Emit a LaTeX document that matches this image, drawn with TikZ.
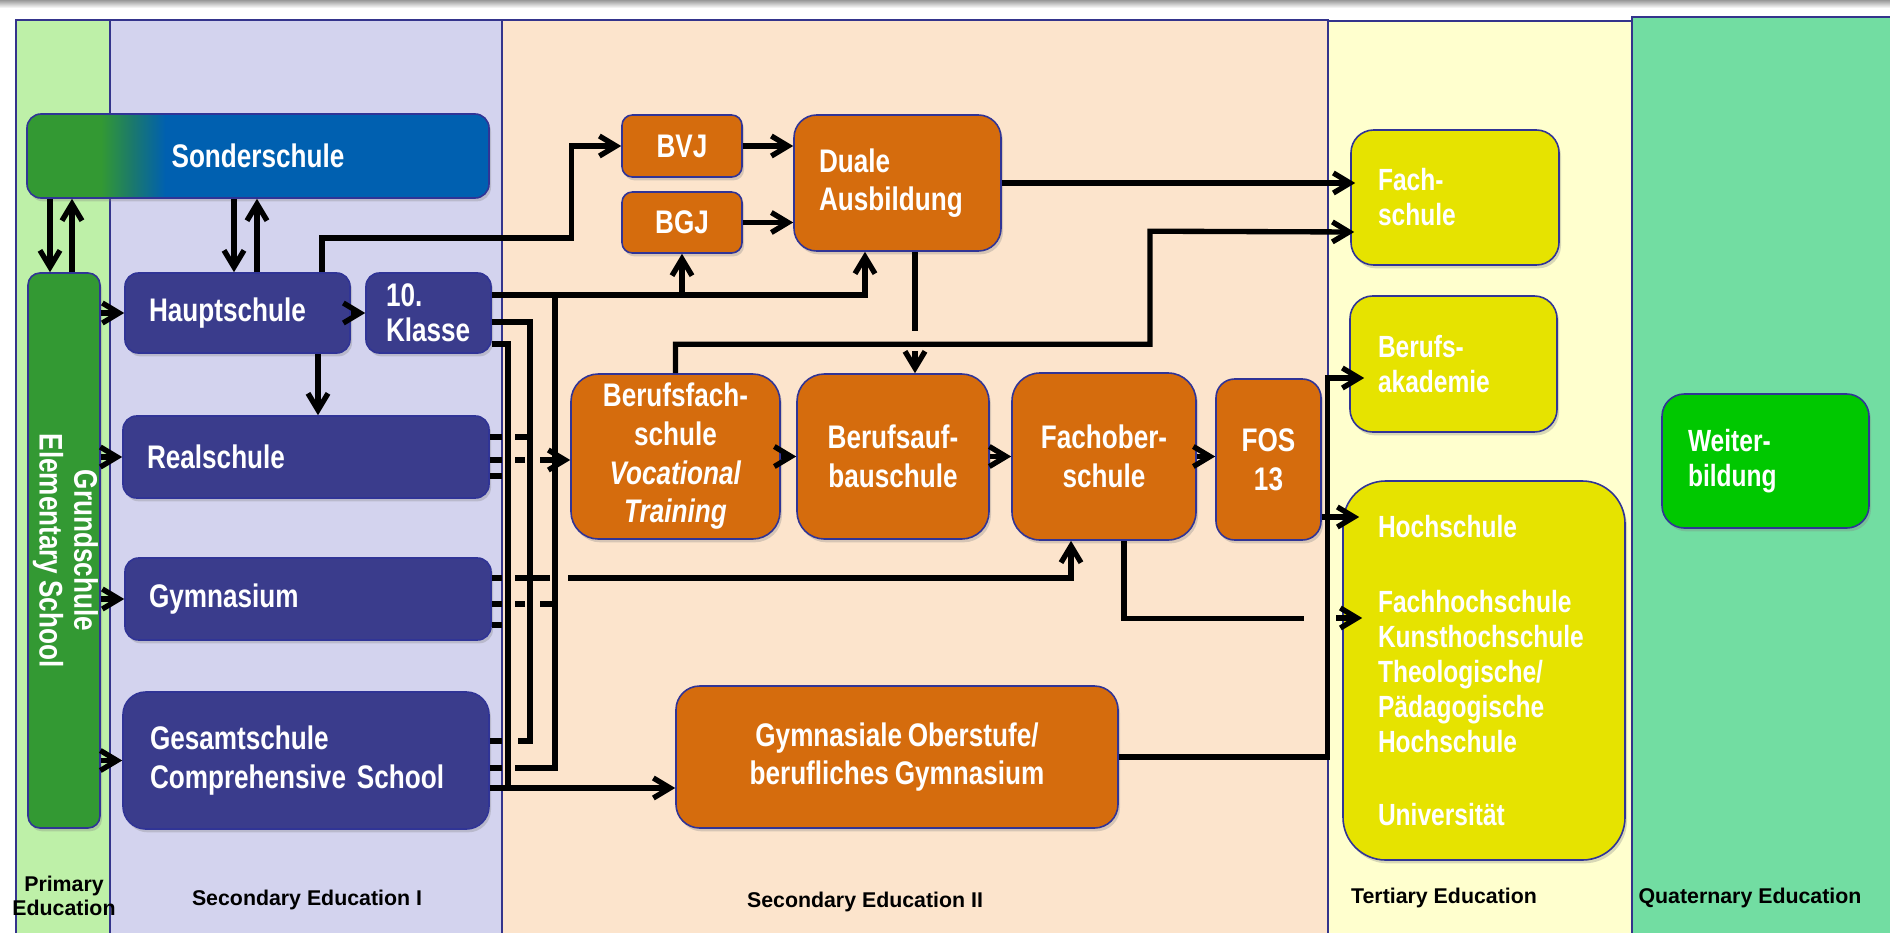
\documentclass[tikz,border=0pt]{standalone}
\usepackage{fontspec}
\usepackage{graphicx}
\setmainfont{Liberation Sans}
\newfontfamily\narrowsf{Liberation Sans}[FakeStretch=0.8, WordSpace=0.8]
\usetikzlibrary{calc,arrows.meta,shadows}

\definecolor{colprim}{RGB}{190,240,168}
\definecolor{colsecA}{RGB}{211,211,238}
\definecolor{colsecB}{RGB}{252,228,204}
\definecolor{colter}{RGB}{255,255,206}
\definecolor{colquat}{RGB}{114,221,162}
\definecolor{colframe}{RGB}{52,52,140}
\definecolor{boxedge}{RGB}{48,52,150}
\definecolor{lowerblue}{RGB}{58,60,140}
\definecolor{upperorange}{RGB}{213,108,13}
\definecolor{tertyellow}{RGB}{230,227,0}
\definecolor{quatgreen}{RGB}{0,200,0}
\definecolor{grundgreen}{RGB}{51,153,51}
\definecolor{sonderteal}{RGB}{26,120,110}
\definecolor{sonderblue}{RGB}{0,96,176}

\pgfdeclarehorizontalshading{sondershade}{100bp}{color(0bp)=(grundgreen); color(33bp)=(grundgreen); color(36.5bp)=(sonderteal); color(40bp)=(sonderblue); color(100bp)=(sonderblue)}

\tikzset{every picture/.style={line width=0.75pt}}
\tikzset{
  schoolbox/.style={draw=boxedge, line width=1.2pt, text=white, inner sep=0pt,
    font=\narrowsf\bfseries\fontsize{24.5}{29}\selectfont,
    drop shadow={opacity=0.3, shadow xshift=1.5pt, shadow yshift=-2.5pt}},
  lowerbox/.style={schoolbox, fill=lowerblue},
  upperbox/.style={schoolbox, fill=upperorange, align=center},
  tertbox/.style={schoolbox, fill=tertyellow, align=left,
    font=\narrowsf\bfseries\fontsize{23}{26.25}\selectfont},
  quatbox/.style={tertbox, fill=quatgreen},
  link/.style={line width=4pt},
  flow/.style={line width=4pt, -{Straight Barb[length=12.5pt,width=15pt]}},
  collabel/.style={font=\bfseries\fontsize{16}{18}\selectfont, inner sep=0pt}
}

\begin{document}
\begin{tikzpicture}[x=0.75pt,y=0.75pt,yscale=-1,xscale=1]
\useasboundingbox (0,0) rectangle (1890,932);

%Shape: top edge
\shade[top color=black!40, bottom color=white] (0,0) rectangle (1890,8);

%Shape: columns
\draw[colframe, line width=1.2pt, fill=colprim] (16,20) rectangle (110,936);
\draw[colframe, line width=1.2pt, fill=colsecA] (110,20) rectangle (502,936);
\draw[colframe, line width=1.2pt, fill=colsecB] (502,20) rectangle (1328,936);
\draw[colframe, line width=1.2pt, fill=colter] (1328,21) rectangle (1632,936);
\draw[colframe, line width=1.2pt, fill=colquat] (1632,17) rectangle (1896,936);

% Column labels
\node[collabel, align=center, anchor=north] (primlabel) at (64,876) {Primary\\Education};
\node[collabel, anchor=base] (secAlabel) at (307,905) {Secondary Education I};
\node[collabel, anchor=base] (secBlabel) at (865,907) {Secondary Education II};
\node[collabel, anchor=base] (terlabel) at (1444,903) {Tertiary Education};
\node[collabel, anchor=base] (quatlabel) at (1750,903) {Quaternary Education};

% Primary and Secondary I
\node[schoolbox, shade, shading=sondershade, rounded corners=10.5pt, minimum width=346.5pt, minimum height=63pt] (sonder) at (258,156) {Sonderschule};
\node[schoolbox, fill=grundgreen, rounded corners=9pt, minimum width=54pt, minimum height=416.25pt,
  font=\narrowsf\bfseries\fontsize{24.5}{26}\selectfont] (grund) at (64,550.5)
  {\rotatebox{-90}{\begin{tabular}{@{}c@{}}Grundschule\\Elementary School\end{tabular}}};
\node[lowerbox, rounded corners=10pt, minimum width=168.75pt, minimum height=60pt, text width=132.75pt, inner xsep=18pt, align=left] (haupt) at (237.5,313) {Hauptschule};
\node[lowerbox, rounded corners=10pt, minimum width=93.75pt, minimum height=60pt, text width=63.75pt, inner xsep=15pt, align=left,
  font=\narrowsf\bfseries\fontsize{24.5}{26}\selectfont] (klasse) at (428.5,313) {10.\\Klasse};
\node[lowerbox, rounded corners=10.25pt, minimum width=274.5pt, minimum height=61.5pt, text width=238.5pt, inner xsep=18pt, align=left] (real) at (306,457) {Realschule};
\node[lowerbox, rounded corners=10.25pt, minimum width=274.5pt, minimum height=61.5pt, text width=238.5pt, inner xsep=18pt, align=left] (gymn) at (308,599) {Gymnasium};
\node[lowerbox, rounded corners=17pt, minimum width=274.5pt, minimum height=102.75pt, text width=234pt, inner xsep=20.25pt, align=left] (gesamt) at (306,760.5) {Gesamtschule\\Comprehensive School};

% Secondary II
\node[upperbox, rounded corners=7.75pt, minimum width=90pt, minimum height=46.5pt] (bvj) at (682,146) {BVJ};
\node[upperbox, rounded corners=7.75pt, minimum width=90pt, minimum height=45.75pt] (bgj) at (682,222.5) {BGJ};
\node[upperbox, rounded corners=17pt, minimum width=155.25pt, minimum height=102pt, text width=117.75pt, inner xsep=18.75pt, align=left] (duale) at (897.5,183) {Duale\\Ausbildung};
\node[upperbox, rounded corners=20.5pt, minimum width=156.75pt, minimum height=123.75pt] (bfs) at (675.5,456.5) {Berufsfach-\\schule\\\textit{Vocational}\\\textit{Training}};
\node[upperbox, rounded corners=20.5pt, minimum width=144pt, minimum height=123.75pt] (bas) at (893,456.5) {Berufsauf-\\bauschule};
\node[upperbox, rounded corners=21pt, minimum width=138pt, minimum height=125.25pt] (fos) at (1104,456.5) {Fachober-\\schule};
\node[upperbox, rounded corners=14pt, minimum width=78.75pt, minimum height=120.75pt] (fos13) at (1268.5,459.5) {FOS\\13};
\node[upperbox, rounded corners=17.75pt, minimum width=331.5pt, minimum height=106.5pt] (gymob) at (897,757) {Gymnasiale Oberstufe/\\berufliches Gymnasium};

% Tertiary and Quaternary
\node[tertbox, rounded corners=17pt, minimum width=156pt, minimum height=101.25pt, text width=115.5pt, inner xsep=20.25pt] (fachs) at (1455,197.5) {Fach-\\schule};
\node[tertbox, rounded corners=17pt, minimum width=155.25pt, minimum height=102pt, text width=113.25pt, inner xsep=21pt] (ba) at (1453.5,364) {Berufs-\\akademie};
\node[tertbox, rounded corners=32pt, minimum width=211.5pt, minimum height=284.25pt, text width=159pt, inner xsep=26.25pt] (hoch) at (1484,670.5)
  {Hochschule\\[30pt]Fachhochschule\\Kunsthochschule\\Theologische/\\Pädagogische\\Hochschule\\[28.5pt]Universität};
\node[quatbox, rounded corners=16.75pt, minimum width=155.25pt, minimum height=100.5pt, text width=116.25pt, inner xsep=19.5pt] (weiter) at (1765.5,461) {Weiter-\\bildung};

% Bus positions
\coordinate (gapL) at (502,0);
\coordinate (gapR) at (515,0);
\coordinate (busA) at (508,0);
\coordinate (busB) at (530,0);
\coordinate (busC) at (555,0);
\coordinate (kA) at ($(klasse.east)+(0,-18)$);
\coordinate (kB) at ($(klasse.east)+(0,9)$);
\coordinate (kC) at ($(klasse.east)+(0,31)$);
\coordinate (rA) at ($(real.east)+(0,-20)$);
\coordinate (rB) at ($(real.east)+(0,3)$);
\coordinate (rC) at ($(real.east)+(0,19)$);
\coordinate (yA) at ($(gymn.east)+(0,-21)$);
\coordinate (yB) at ($(gymn.east)+(0,5)$);
\coordinate (yC) at ($(gymn.east)+(0,26)$);
\coordinate (sA) at ($(gesamt.east)+(0,-19.5)$);
\coordinate (sB) at ($(gesamt.east)+(0,7.5)$);
\coordinate (sC) at ($(gesamt.east)+(0,27.5)$);

% Grundschule
\draw[flow] (grund.east |- haupt.west) -- (haupt.west);
\draw[flow] (grund.east |- real.west) -- (real.west);
\draw[flow] (grund.east |- gymn.west) -- (gymn.west);
\draw[flow] (grund.east |- gesamt.west) -- (gesamt.west);
\coordinate (gDown) at ($(grund.north)+(-14,0)$);
\coordinate (gUp) at ($(grund.north)+(8,0)$);
\draw[flow] (gDown |- sonder.south) -- (gDown);
\draw[flow] (gUp) -- (gUp |- sonder.south);

% Hauptschule
\coordinate (hDown) at ($(haupt.north)+(-3.5,0)$);
\coordinate (hUp) at ($(haupt.north)+(19.5,0)$);
\draw[flow] (hDown |- sonder.south) -- (hDown);
\draw[flow] (hUp) -- (hUp |- sonder.south);
\draw[flow] (haupt.east) -- (klasse.west);
\coordinate (hReal) at ($(haupt.south)+(80.5,0)$);
\draw[flow] (hReal) -- (hReal |- real.north);
\draw[flow] ($(haupt.north)+(84.5,0)$) |- ($(bvj.west)+(-50,92)$) |- (bvj.west);

% 10. Klasse
\draw[flow] (kA) -- ($(kA -| duale.south)+(-32.5,0)$) -- ($(duale.south)+(-32.5,0)$);
\draw[flow] (kA -| bgj.south) -- (bgj.south);
\draw[link] (kA -| busC) -- (busC |- sB) -- ($(sB -| busC)+(-40,0)$);
\draw[link] (kB) -| (busB |- sA) -- ++(-12,0);
\draw[link] (kC) -| (busA |- sC);

% Realschule
\draw[link] (rA) -- (rA -| gapL);
\draw[link] (rA -| gapR) -- (rA -| busB);
\draw[link] (rB) -- (rB -| gapL);
\draw[link] (rB -| gapR) -- ($(rB -| busB)+(-5,0)$);
\draw[flow] ($(rB -| busB)+(10,0)$) -- (rB -| bfs.west);
\draw[link] (rC) -- (rC -| gapL);

% Gymnasium
\draw[link] (yA) -- (yA -| gapL);
\draw[link] (yA -| gapR) -- ($(yA -| busC)+(-5,0)$);
\draw[flow] ($(yA -| busC)+(13,0)$) -| ($(fos.south)+(-33,0)$);
\draw[link] (yB) -- (yB -| gapL);
\draw[link] (yB -| gapR) -- ($(yB -| busB)+(-5,0)$);
\draw[link] ($(yB -| busB)+(10,0)$) -- (yB -| busC);
\draw[link] (yC) -- (yC -| gapL);

% Gesamtschule
\draw[link] (sA) -- (sA -| gapL);
\draw[link] (sB) -- (sB -| gapL);
\draw[flow] (sC) -- (sC -| gymob.west);

% BVJ, BGJ, Duale Ausbildung
\draw[flow] (bvj.east) -- (bvj.east -| duale.west);
\draw[flow] (bgj.east) -- (bgj.east -| duale.west);
\draw[flow] (duale.east) -- ($(duale.east -| fachs.west)+(5,0)$);
\coordinate (dDown) at ($(duale.south)+(17.5,0)$);
\draw[link] (dDown) -- ++(0,79);
\draw[flow] ($(dDown)+(0,99)$) -- (dDown |- bas.north);

% Berufsfachschule row
\draw[flow] (bfs.north) -- ++(0,-29) -| ++(474.5,-113) -- ($(fachs.west)+(4,34.5)$);
\draw[flow] (bfs.east) -- (bas.west);
\draw[flow] (bas.east) -- (fos.west);
\draw[flow] (fos.east) -- (fos.east -| fos13.west);
\draw[link] ($(fos.south)+(20,0)$) |- ++(180,78);
\draw[flow] ($(hoch.west)+(-6,-52.5)$) -- ($(hoch.west)+(20,-52.5)$);
\coordinate (hIn) at ($(hoch.west)+(17,-153.5)$);
\draw[flow] (fos13.east |- hIn) -- (hIn);

% Gymnasiale Oberstufe
\draw[flow] (gymob.east) -| ($(ba.west)+(-22,14)$) -- ($(ba.west)+(15,14)$);

\end{tikzpicture}
\end{document}
